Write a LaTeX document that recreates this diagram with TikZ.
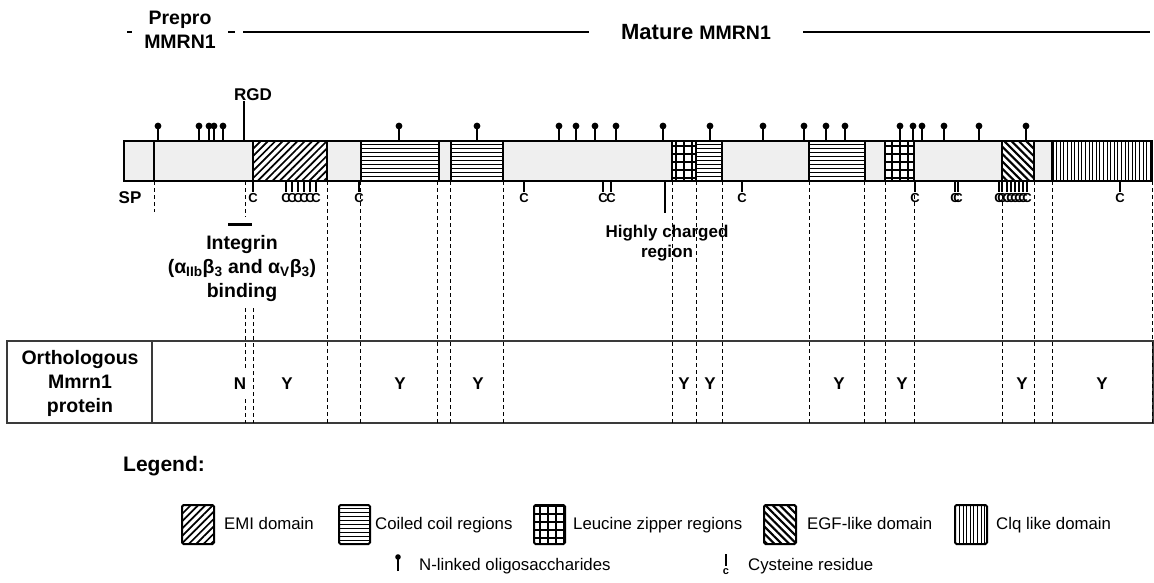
\documentclass[tikz,border=0pt]{standalone}
\usepackage{fontspec}
\setmainfont{Liberation Sans}
\usetikzlibrary{patterns.meta}
\definecolor{barbg}{HTML}{EFEFEF}
\definecolor{tblline}{HTML}{3A3A3A}
\tikzdeclarepattern{name=emihatch, type=uncolored,
  bottom left={(-.1pt,-.1pt)}, top right={(5.3pt,5.3pt)}, tile size={(5.2pt,5.2pt)},
  tile transformation={rotate=45},
  code={\draw[line width=1.7pt] (-.1pt,2.6pt) -- (5.3pt,2.6pt);}}
\tikzdeclarepattern{name=egfhatch, type=uncolored,
  bottom left={(-.1pt,-.1pt)}, top right={(5.3pt,5.3pt)}, tile size={(5.2pt,5.2pt)},
  tile transformation={rotate=-45},
  code={\draw[line width=2.1pt] (-.1pt,2.6pt) -- (5.3pt,2.6pt);}}
\tikzdeclarepattern{name=coilhatch, type=uncolored,
  bottom left={(-.1pt,-.1pt)}, top right={(4.1pt,4.1pt)}, tile size={(4pt,4pt)},
  code={\draw[line width=.8pt] (-.1pt,2pt) -- (4.1pt,2pt);}}
\tikzdeclarepattern{name=ziphatch, type=uncolored,
  bottom left={(-.1pt,-.1pt)}, top right={(8.1pt,8.1pt)}, tile size={(8pt,8pt)},
  code={\draw[line width=1.2pt] (4pt,-.1pt) -- (4pt,8.1pt) (-.1pt,4pt) -- (8.1pt,4pt);}}
\tikzdeclarepattern{name=clqhatch, type=uncolored,
  bottom left={(-.1pt,-.1pt)}, top right={(3.7pt,3.7pt)}, tile size={(3.6pt,3.6pt)},
  code={\draw[line width=.9pt] (1.8pt,-.1pt) -- (1.8pt,3.7pt);}}
\tikzset{
  big/.style   ={font=\fontsize{19.5}{24}\selectfont\bfseries, inner sep=0pt, align=center},
  lbl/.style   ={font=\fontsize{17}{20}\selectfont\bfseries, inner sep=0pt, align=center},
  cys/.style   ={font=\fontsize{13}{13}\selectfont\bfseries, inner sep=0pt},
  leg/.style   ={font=\fontsize{16.8}{20}\selectfont, inner sep=0pt, anchor=west,
                 text height=12pt, text depth=3.6pt},
  barline/.style={draw=black, line width=2pt},
  bnd/.style   ={line width=2.4pt},
  emi/.style   ={barline, preaction={fill=white}, pattern=emihatch},
  egf/.style   ={barline, preaction={fill=white}, pattern=egfhatch},
  coil/.style  ={barline, preaction={fill=white}, pattern=coilhatch},
  zip/.style   ={barline, preaction={fill=white}, pattern=ziphatch},
  clq/.style   ={barline, preaction={fill=white}, pattern=clqhatch},
  guide/.style ={line width=.9pt, dash pattern=on 4pt off 3pt},
  tbl/.style   ={draw=tblline, line width=1.3pt},
  ttl/.style   ={line width=2.7pt},
  stem/.style  ={line width=1.1pt},
}

\begin{document}
\begin{tikzpicture}[x=1pt,y=-1pt]
  \useasboundingbox (0,0) rectangle (1154,582);

  % prepro / mature header
  \draw[ttl] (127,32) -- (235,32);
  \draw[ttl] (243,32) -- (1150,32);
  \node[big,fill=white,minimum width=96pt,minimum height=56pt] (prepro) at (180,30) {Prepro\\MMRN1};
  \node[big,fill=white,minimum width=214pt,minimum height=30pt,font=\fontsize{22}{24}\selectfont\bfseries] (mature) at (696,32)
    {Mature {\fontsize{19.5}{20}\selectfont MMRN1}};

  % protein bar and domains
  \fill[barbg] (124,141) rectangle (1152,181);
  \foreach \a/\b/\s in {253/327/emi, 361/439/coil, 451/503/coil, 672/696/zip, 696/722/coil,
                        809/865/coil, 885/914/zip, 1002/1034/egf, 1052/1152/clq}
    \path[\s] (\a,141) rectangle (\b,181);
  \foreach \x in {154,253,327,361,439,451,503,672,696,722,809,865,885,914,1002,1034,1052}
    \draw[bnd] (\x,141) -- (\x,181);
  \draw[barline] (124,141) rectangle (1152,181);

  % N-linked oligosaccharides
  \foreach \p in {158,199,209,214,223,399,477,559,576,595,616,663,710,763,804,826,845,900,913,922,944,979,1026} {
    \draw[stem] (\p,141) -- (\p,127);
    \fill (\p,126) circle (3.4pt);
  }
  % cysteine residues
  \foreach \c in {253,286,292,298,304,310,316,359,524,603,611,742,915,955,958,999,1002,1007,1011,1015,1019,1023,1027,1120} {
    \draw[stem] (\c,181) -- (\c,192);
    \node[cys] (cy\c) at (\c,198) {C};
  }

  % RGD and labels under the bar
  \node[lbl] (rgd) at (253,95) {RGD};
  \coordinate (rgdpt) at (244,141);
  \draw[stem] (rgdpt) -- (rgdpt |- rgd.south);
  \node[lbl] (sp) at (130,198) {SP};
  \draw[line width=3pt] (228,224) -- (252,224);
  \node[big] (integrin) at (242,268)
    {Integrin\\(α\textsubscript{IIb}β\textsubscript{3} and α\textsubscript{V}β\textsubscript{3})\\binding};
  \node[lbl] (charged) at (667,243) {Highly charged\\region};
  \coordinate (chpt) at (665,181);
  \draw[stem] (chpt) -- (chpt |- 0,213);

  % table
  \draw[tbl] (7,341) rectangle (1153,423);
  \draw[tbl] (152,341) -- (152,423);
  \node[big,align=center] (orth) at (80,383) {Orthologous\\Mmrn1\\protein};

  % guide lines
  \foreach \x in {327,360,437,450,503,672,696,722,809,864,885,914,1002,1034,1052,1152}
    \draw[guide] (\x,181) -- (\x,423);
  \draw[guide] (154,181) -- (154,212);
  \draw[guide] (245,181) -- (245,217);
  \draw[guide] (245,308) -- (245,423);
  \draw[guide] (253,308) -- (253,423);

  \node[lbl,fill=white,inner xsep=4pt,inner ysep=8pt] (ortN) at (240,384) {N};
  \foreach \x in {287,400,478,684,710,839,902,1022,1102}
    \node[lbl] (ortY\x) at (\x,384) {Y};

  % legend
  \node[font=\fontsize{21}{24}\selectfont\bfseries,anchor=west,inner sep=0pt] (legend) at (123,466) {Legend:};
  \path[emi,rounded corners=1.5pt]  (182,505) rectangle (214,544);
  \node[leg] (lemi) at (224,525) {EMI domain};
  \path[coil,rounded corners=1.5pt] (339,505) rectangle (370,544);
  \node[leg] (lcoil) at (375,525) {Coiled coil regions};
  \path[zip,rounded corners=1.5pt]  (534,505) rectangle (565,544);
  \node[leg] (lzip) at (573,525) {Leucine zipper regions};
  \path[egf,rounded corners=1.5pt]  (764,505) rectangle (796,544);
  \node[leg] (legf) at (807,525) {EGF-like domain};
  \path[clq,rounded corners=1.5pt]  (955,505) rectangle (987,544);
  \node[leg] (lclq) at (996,525) {Clq like domain};

  \draw[stem] (398,571) -- (398,558);
  \fill (398,557) circle (2.8pt);
  \node[leg] (lglyc) at (419,566) {N-linked oligosaccharides};
  \draw[stem] (726,554) -- (726,566);
  \node[cys,font=\fontsize{11}{11}\selectfont\bfseries] (lcysc) at (726,572) {c};
  \node[leg] (lcys) at (748,566) {Cysteine residue};
\end{tikzpicture}
\end{document}
